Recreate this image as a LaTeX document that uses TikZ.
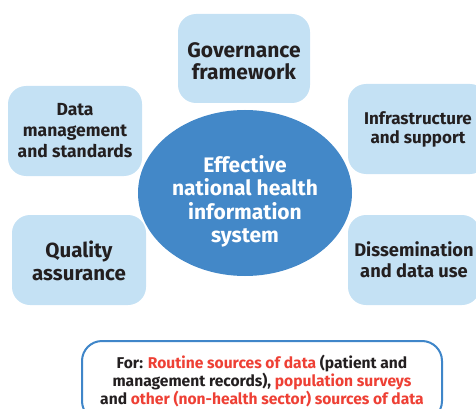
\documentclass[tikz,border=0pt]{standalone}
\usepackage{fontspec}
\setmainfont{Fira Sans}
\usetikzlibrary{shapes.geometric}
\definecolor{boxfill}{HTML}{C4E1F4}
\definecolor{corefill}{HTML}{4388C8}
\definecolor{framecol}{HTML}{3F86C9}
\definecolor{inkcol}{HTML}{231F20}
\definecolor{accent}{HTML}{EE4035}
\begin{document}
\begin{tikzpicture}[x=1pt,y=-1pt,
  pillar/.style={fill=boxfill, rounded corners=18pt, inner sep=0pt},
  pillartext/.style={align=center, text=inkcol, inner sep=0pt},
  core/.style={ellipse, fill=corefill, inner sep=0pt,
    minimum width=214pt, minimum height=166pt},
  scopebox/.style={draw=framecol, line width=2pt, rounded corners=20pt,
    fill=white, inner sep=0pt, minimum width=360pt, minimum height=80pt}]
\useasboundingbox (0,0) rectangle (476,409);
\clip (0,0) rectangle (476,409);

% surrounding components
\node[pillar, minimum width=132pt, minimum height=89pt] (gov) at (244,58.5) {};
\node[pillartext, font=\bfseries\fontsize{21}{22}\selectfont] (govtext)
  at (244,61.5) {Governance\\framework};

\node[pillar, minimum width=134pt, minimum height=90pt] (dms) at (75,131) {};
\node[pillartext, font=\bfseries\fontsize{17.5}{21}\selectfont] (dmstext)
  at (75,131) {Data\\management\\and standards};

\node[pillar, minimum width=140pt, minimum height=90pt] (infra) at (418,129) {};
\node[pillartext, font=\bfseries\fontsize{17}{19.5}\selectfont] (infratext)
  at (418,129.5) {Infrastructure\\and support};

\node[pillar, minimum width=134pt, minimum height=90pt] (qa) at (79,260) {};
\node[pillartext, font=\bfseries\fontsize{20.5}{22.5}\selectfont] (qatext)
  at (79,261) {Quality\\assurance};

\node[pillar, minimum width=132pt, minimum height=90pt] (dis) at (414,260) {};
\node[pillartext, font=\bfseries\fontsize{18.3}{21}\selectfont] (distext)
  at (414,260) {Dissemination\\and data use};

% central system
\node[core] (hub) at (245,193) {};
\node[text=white, align=center, inner sep=0pt,
  font=\bfseries\fontsize{21}{23.5}\selectfont] (hubtext) at (245,201.5)
  {Effective\\national health\\information\\system};

% data sources
\node[scopebox] (src) at (262,381) {};
\node[align=center, text=inkcol, inner sep=0pt,
  font=\bfseries\fontsize{15.6}{18}\selectfont] (srctext) at (262,381)
  {For: \textcolor{accent}{Routine sources of data} (patient and\\
   management records), \textcolor{accent}{population surveys}\\
   and \textcolor{accent}{other (non-health sector) sources of data}};
\end{tikzpicture}
\end{document}
